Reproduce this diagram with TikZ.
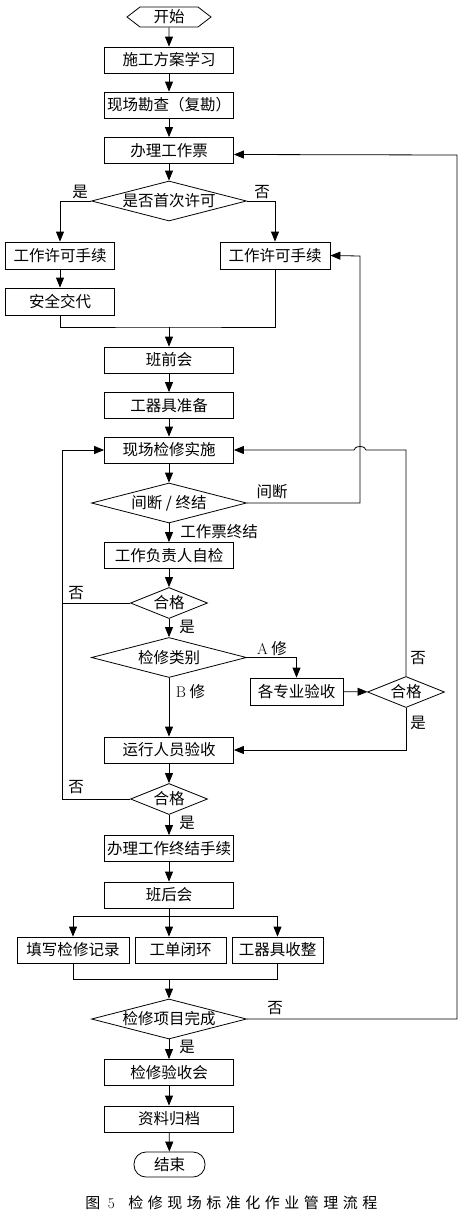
\documentclass[tikz,border=0pt]{standalone}
\usepackage{fontspec}
\newfontfamily\cjk{Noto Sans CJK SC}
\newfontfamily\cjkcap[LetterSpace=30]{Noto Sans CJK SC}
\usetikzlibrary{arrows.meta,shapes.geometric,shapes.symbols}
\newcommand{\dtext}[1]{\makebox[0pt]{#1}}
\tikzset{
  every node/.style={font=\cjk\fontsize{15.5}{18}\selectfont},
  stepbox/.style={draw, minimum width=129pt, minimum height=26pt, inner sep=1pt},
  bigdec/.style={diamond, draw, inner sep=0pt, minimum width=155pt, minimum height=40pt},
  smalldec/.style={diamond, draw, inner sep=0pt, minimum width=77pt, minimum height=31pt},
  startbox/.style={signal, signal to=east and west, signal pointer angle=75, draw,
    inner sep=0pt, minimum width=84pt, minimum height=20pt},
  stopbox/.style={draw, rounded corners=12pt, minimum width=71pt, minimum height=25pt},
  arr/.style={-{Triangle[length=10pt,width=8pt]}},
  lbl/.style={inner sep=0pt}
}

\begin{document}
\begin{tikzpicture}[x=1pt,y=1pt,line width=0.8pt]
\useasboundingbox (0,0) rectangle (469,-1218);
% main column
\node[startbox] (start) at (169,-17) {开始};
\node[stepbox] (study) at (169,-60) {施工方案学习};
\node[stepbox] (survey) at (169,-105) {现场勘查（复勘）};
\node[stepbox] (ticket) at (169,-150.5) {办理工作票};
\node[bigdec] (first) at (169,-201) {\dtext{是否首次许可}};
\node[stepbox, minimum width=109pt, minimum height=27pt] (permA) at (60,-255.5) {工作许可手续};
\node[stepbox, minimum width=109pt, minimum height=27pt] (safety) at (60,-301.5) {安全交代};
\node[stepbox, minimum width=110pt, minimum height=27pt] (permB) at (275,-255.5) {工作许可手续};
\node[stepbox] (premeet) at (169,-360) {班前会};
\node[stepbox] (tools) at (169,-405.5) {工器具准备};
\node[stepbox] (work) at (169,-450) {现场检修实施};
\node[bigdec] (pause) at (169,-503) {\dtext{间断 / 终结}};
\node[stepbox] (selfchk) at (169,-555.5) {工作负责人自检};
\node[smalldec] (okA) at (169,-603) {\dtext{合格}};
\node[bigdec] (kind) at (169,-657.5) {\dtext{检修类别}};
\node[stepbox, minimum width=93pt, minimum height=27pt] (spec) at (296.5,-691.5) {各专业验收};
\node[smalldec] (okB) at (406,-692) {\dtext{合格}};
\node[stepbox] (oper) at (169,-750) {运行人员验收};
\node[smalldec] (okC) at (169,-799) {\dtext{合格}};
\node[stepbox] (close) at (169,-848.5) {办理工作终结手续};
\node[stepbox] (postmeet) at (169,-895) {班后会};
\node[stepbox, minimum width=112pt] (record) at (73,-950) {填写检修记录};
\node[stepbox, minimum width=91pt] (order) at (180.5,-950) {工单闭环};
\node[stepbox, minimum width=91pt] (tidy) at (277.5,-950) {工器具收整};
\node[bigdec] (finish) at (169,-1019) {\dtext{检修项目完成}};
\node[stepbox] (review) at (169,-1072.5) {检修验收会};
\node[stepbox] (archive) at (169,-1119) {资料归档};
\node[stopbox] (stop) at (169.5,-1164.5) {结束};
% turning points
\coordinate (joinA) at (169,-327);
\coordinate (backB) at (360,-256);
\coordinate (backW) at (62,-450);
\coordinate (hop) at (366,-450);
\coordinate (split) at (169,-916);
\coordinate (merge) at (169,-979);
\coordinate (loopR) at (457,-155);
% straight arrows
\foreach \a/\b in {start/study, study/survey, survey/ticket, ticket/first, permA/safety,
  premeet/tools, tools/work, work/pause, pause/selfchk, selfchk/okA, okA/kind, kind/oper,
  oper/okC, okC/close, close/postmeet, finish/review, review/archive, archive/stop, spec/okB}
  \draw[arr] (\a) -- (\b);
% branches
\draw[arr] (first.west) -| (permA.north);
\draw[arr] (first.east) -| (permB.north);
\draw (safety.south) |- (joinA) -| (permB.south);
\draw[arr] (joinA) -- (premeet.north);
\draw[arr] (pause.east) -| (backB) -- (permB.east);
\draw[arr] (okA.west) -| (backW) -- (work.west);
\draw (okC.west) -| (okA.west -| backW);
\draw[arr] (kind.east) -| (spec.north);
\draw[arr] (okB.north) |- (hop) arc[start angle=0, end angle=180, x radius=6, y radius=3.5] -- (work.east);
\draw[arr] (okB.south) |- (oper.east);
\draw (postmeet.south) -- (split);
\draw[arr] (split) -| (record.north);
\draw[arr] (split) -| (tidy.north);
\draw[arr] (split) -- (split |- order.north);
\draw (record.south) |- (merge) -| (tidy.south);
\draw[arr] (merge) -- (finish.north);
\draw[arr] (finish.east) -| (loopR) -- ([yshift=-4pt]ticket.east);
% labels
\node[lbl] (yesA) at (80,-192) {是};
\node[lbl] (noA) at (262,-192) {否};
\node[lbl] (brk) at (272,-492) {间断};
\node[lbl, anchor=west] (endt) at (180,-532) {工作票终结};
\node[lbl] (noB) at (76,-593) {否};
\node[lbl] (yesB) at (187,-627) {是};
\node[lbl] (kindA) at (272,-649) {\textrm{A} 修};
\node[lbl] (kindB) at (190.5,-692) {\textrm{B} 修};
\node[lbl] (noC) at (418,-658) {否};
\node[lbl] (yesC) at (418,-723) {是};
\node[lbl] (noD) at (76,-787) {否};
\node[lbl] (yesD) at (187,-823) {是};
\node[lbl] (noE) at (275,-1008) {否};
\node[lbl] (yesE) at (187,-1047) {是};
\node[lbl, anchor=west, font=\cjkcap\fontsize{15}{18}\selectfont] (caption) at (85,-1203)
  {图\hspace{0.2em}\textrm{5}\hspace{0.9em}检修现场标准化作业管理流程};
\end{tikzpicture}
\end{document}
